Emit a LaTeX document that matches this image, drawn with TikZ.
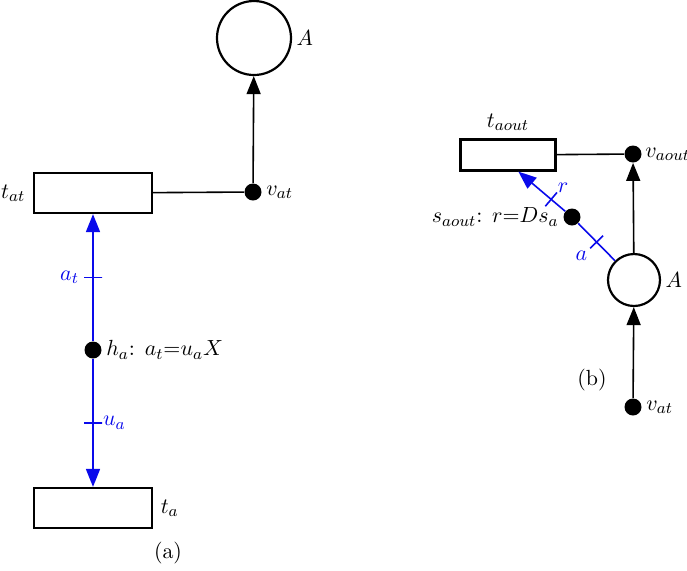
\documentclass[tikz,border=0pt,11pt]{standalone}
\usepackage{tikz}
\usetikzlibrary{arrows.meta,positioning,calc}
\definecolor{flow}{RGB}{10,10,235}
\tikzset{
  place/.style={circle,draw=black,line width=1.1pt,fill=white,minimum size=37pt,inner sep=0pt},
  smallplace/.style={place,minimum size=26pt},
  trans/.style={rectangle,draw=black,line width=1.1pt,fill=white,minimum width=59pt,minimum height=20pt,inner sep=0pt},
  smalltrans/.style={trans,minimum width=47.5pt,minimum height=15.5pt},
  dot/.style={circle,fill=black,minimum size=8.5pt,inner sep=0pt},
  arc/.style={-{Triangle[length=9pt,width=7pt]},thick},
  plain/.style={thick},
  flowarc/.style={-{Triangle[length=9pt,width=7pt]},thick,draw=flow},
  flowline/.style={thick,draw=flow},
  tick/.style={draw=flow,thick,sloped,minimum width=0pt,minimum height=9pt,inner sep=0pt},
  flowlab/.style={text=flow},
}
\begin{document}
\begin{tikzpicture}[x=0.5pt,y=-0.5pt]
\useasboundingbox (0,0) rectangle (687,570);
% (a): place A fed through v_at, flow h_a between t_at and t_a
\node[place,label={[inner sep=2pt]right:$A$}] (A) at (254,38) {};
\node[dot,label={[inner sep=2pt]right:$v_{at}$}] (vat) at (253,192) {};
\node[trans,label=left:$t_{at}$] (tat) at (93,193) {};
\node[dot,label={[inner sep=2pt]right:{$h_a$: $a_t{=}u_aX$}}] (ha) at (93,350) {};
\node[trans,label=right:$t_a$] (ta) at (93,508) {};

\draw[plain] (tat) -- (vat);
\draw[arc]   (vat) -- (A);
\draw[flowarc] (ha) -- node[tick,pos=0.5]{} node[flowlab,pos=0.5,left=3pt]{$a_t$} (tat);
\draw[flowarc] (ha) -- node[tick,pos=0.5]{} node[flowlab,pos=0.5,right=1pt]{$u_a$} (ta);

\node (capa) at (168,553) {(a)};

% (b): outflow of A through s_aout
\node[smalltrans,label=above:$t_{aout}$] (taout) at (508,155) {};
\node[dot,label={[inner sep=1.5pt]right:$v_{aout}$}] (vaout) at (633,154) {};
\node[smallplace,label={[inner sep=2pt]right:$A$}] (Ab) at (634,280) {};
\node[dot,label={[inner sep=2pt]right:$v_{at}$}] (vatb) at (633,407) {};
\node[dot,label={[inner sep=2pt]left:{$s_{aout}$: $r{=}Ds_a$}}] (sa) at (572,217) {};

\draw[plain] (taout) -- (vaout);
\draw[arc]   (Ab) -- (vaout);
\draw[arc]   (vatb) -- (Ab);
\draw[flowline] (Ab) -- node[tick,pos=0.5]{} node[flowlab,pos=0.5,below left=1pt]{$a$} (sa);
\draw[flowarc] (sa) -- node[tick,pos=0.3]{} node[flowlab,pos=0.3,above right=-1pt]{$r$} (taout.-58);

\node (capb) at (592,380) {(b)};
\end{tikzpicture}
\end{document}
